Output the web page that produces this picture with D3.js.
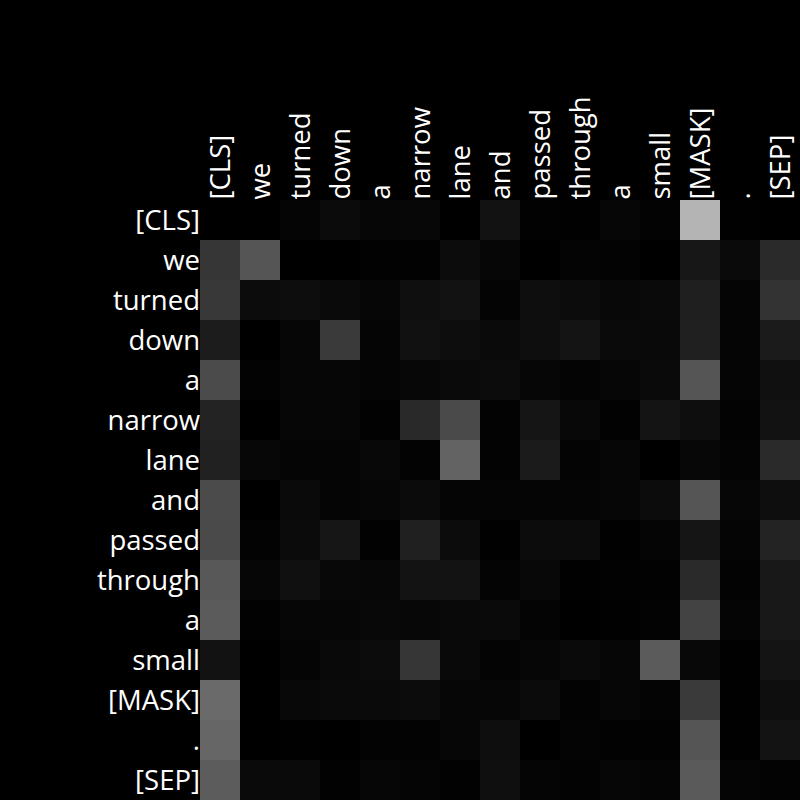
<!DOCTYPE html>
<html><head><meta charset="utf-8">
<script src="https://cdn.jsdelivr.net/npm/d3@7"></script>
<style>html,body{margin:0;padding:0;background:#000;}svg{display:block;}</style>
</head><body>
<script>
const tokens = ["[CLS]","we","turned","down","a","narrow","lane","and","passed","through","a","small","[MASK]",".","[SEP]"];
const row0  = [0,0,.020,.043,.024,.027,0,.071,.008,.004,.024,.012,.706,.004,0];
const row1  = [.212,.333,0,0,.008,.008,.047,.024,0,.016,.012,0,.090,.039,.165];
const row2  = [.220,.047,.051,.039,.024,.059,.071,.016,.055,.047,.031,.039,.122,.020,.200];
const row3  = [.110,0,.024,.227,.020,.067,.051,.039,.055,.078,.039,.035,.125,.020,.106];
const row4  = [.294,.012,.024,.024,.020,.027,.039,.047,.024,.016,.024,.039,.333,.020,.063];
const row5  = [.137,0,.024,.024,.008,.161,.290,.012,.082,.031,.008,.078,.055,.012,.071];
const row6  = [.129,.027,.020,.020,.031,.012,.388,.012,.106,.016,.024,0,.027,.016,.165];
const row7  = [.294,0,.039,.020,.024,.043,.020,.020,.020,.020,.024,.047,.333,.024,.055];
const row8  = [.290,.012,.043,.086,.008,.125,.047,.004,.047,.047,.004,.020,.082,.020,.137];
const row9  = [.345,.024,.063,.031,.027,.075,.075,.016,.031,.004,.008,.008,.165,.012,.094];
const row10 = [.357,.008,.024,.024,.031,.027,.035,.039,.016,0,.004,.012,.263,.020,.094];
const row11 = [.071,0,.020,.035,.047,.212,.035,.016,.024,.039,.024,.357,.031,.004,.078];
const row12 = [.416,0,.031,.039,.039,.047,.024,.024,.043,.012,.024,.016,.227,.004,.055];
const row13 = [.400,0,.004,0,.012,.012,.024,.055,0,.016,.008,.008,.333,.004,.075];
const row14 = [.361,.039,.039,.008,.024,.020,.008,.059,.020,.012,.024,.020,.353,.020,.012];
const matrix = [row0,row1,row2,row3,row4,row5,row6,row7,row8,row9,row10,row11,row12,row13,row14];

const W = 800, H = 800;
const svg = d3.select("body").append("svg").attr("width", W).attr("height", H)
  .style("background", "#000");
svg.append("rect").attr("width", W).attr("height", H).attr("fill", "#000");

const idx = d3.range(tokens.length);
const x = d3.scaleBand().domain(idx).range([200, 800]);
const y = d3.scaleBand().domain(idx).range([200, 800]);
const color = d3.scaleLinear().domain([0, 1]).range(["#000000", "#ffffff"]);

const cells = [];
matrix.forEach((r, i) => r.forEach((v, j) => cells.push({i, j, v})));
svg.append("g").selectAll("rect").data(cells).join("rect")
  .attr("x", d => x(d.j)).attr("y", d => y(d.i))
  .attr("width", x.bandwidth()).attr("height", y.bandwidth())
  .attr("fill", d => color(d.v));

const font = "'Open Sans', 'Noto Sans', sans-serif";
const fs = "27.5px";
// row labels
svg.append("g").selectAll("text").data(idx).join("text")
  .attr("x", 200).attr("y", d => y(d) + y.bandwidth() / 2 - 1)
  .attr("text-anchor", "end").attr("dominant-baseline", "central")
  .attr("fill", "#fff").style("font-family", font).style("font-size", fs)
  .text(d => tokens[d]);
// column labels
svg.append("g").selectAll("text").data(idx).join("text")
  .attr("transform", d => `translate(${x(d) + x.bandwidth() / 2 - 1},199.5) rotate(-90)`)
  .attr("text-anchor", "start").attr("dominant-baseline", "central")
  .attr("fill", "#fff").style("font-family", font).style("font-size", fs)
  .text(d => tokens[d]);
</script>
</body></html>
